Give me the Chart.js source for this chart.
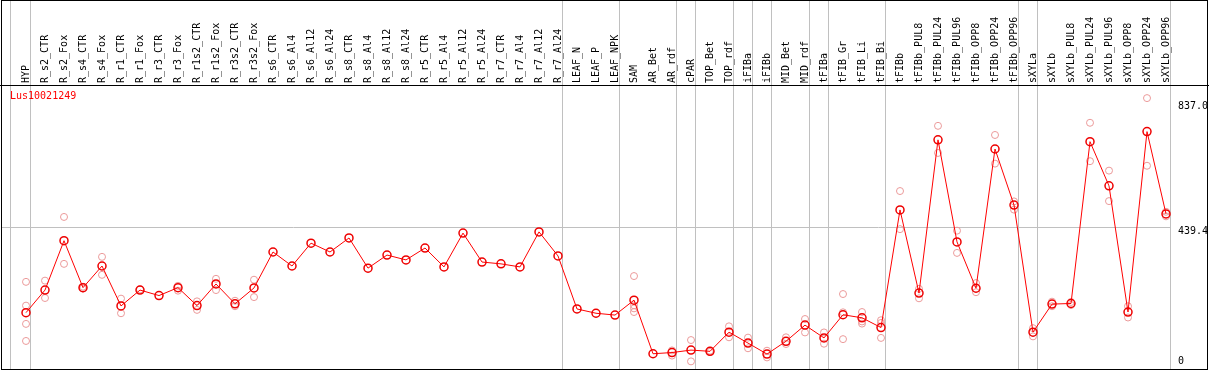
<!DOCTYPE html>
<html><head><meta charset="utf-8">
<script src="https://cdn.jsdelivr.net/npm/chart.js@4"></script>
<style>
html,body{margin:0;padding:0;background:#fff;overflow:hidden}
#wrap{position:relative;width:1209px;height:370px}
#c{position:absolute;left:0;top:0}
#frame{position:absolute;left:1px;top:0;width:1205px;height:368px;border:1px solid #000;pointer-events:none}
#gene{position:absolute;left:10px;top:90px;font:10px/12px "DejaVu Sans Mono",monospace;color:#ff0000;white-space:nowrap}
</style></head><body>
<div id="wrap"><canvas id="c" width="1209" height="370"></canvas><div id="gene">Lus10021249</div><div id="frame"></div></div>
<script>
const categories = ["HYP","R_s2_CTR","R_s2_Fox","R_s4_CTR","R_s4_Fox","R_r1_CTR","R_r1_Fox","R_r3_CTR","R_r3_Fox","R_r1s2_CTR","R_r1s2_Fox","R_r3s2_CTR","R_r3s2_Fox","R_s6_CTR","R_s6_Al4","R_s6_Al12","R_s6_Al24","R_s8_CTR","R_s8_Al4","R_s8_Al12","R_s8_Al24","R_r5_CTR","R_r5_Al4","R_r5_Al12","R_r5_Al24","R_r7_CTR","R_r7_Al4","R_r7_Al12","R_r7_Al24","LEAF_N","LEAF_P","LEAF_NPK","SAM","AR_Bet","AR_rdf","cPAR","TOP_Bet","TOP_rdf","iFIBa","iFIBb","MID_Bet","MID_rdf","tFIBa","tFIB_Gr","tFIB_Li","tFIB_Bi","tFIBb","tFIBb_PUL8","tFIBb_PUL24","tFIBb_PUL96","tFIBb_OPP8","tFIBb_OPP24","tFIBb_OPP96","sXYLa","sXYLb","sXYLb_PUL8","sXYLb_PUL24","sXYLb_PUL96","sXYLb_OPP8","sXYLb_OPP24","sXYLb_OPP96"];
const means = [161,235,397,243,314,183,235,217,243,184,255,190,242,360,314,389,360,406,307,350,334,373,311,422,327,321,311,426,347,173,159,153,202,26,30,38,34,97,61,25,67,120,78,154,144,112,498,225,728,393,241,698,514,97,189,191,722,577,163,755,485];
const replicates = [[262,184,124,68],[266,209],[475,321],[246,240],[344,285],[207,159],[237],[],[249,233],[198,170],[272,235],[200,182],[269,212],[],[],[],[],[],[],[],[],[],[],[],[],[],[],[],[],[],[],[],[281,185,175,163],[],[37,20],[71,1],[36,32],[116,80],[79,44],[36,14],[80,58],[140,96],[96,59],[222,162,74],[163,132,125],[136,127,78],[560,435],[239,208],[774,685],[430,357],[258,228],[744,650],[526,499],[110,83],[197,182],[196,186],[784,658],[627,527],[182,145],[865,643],[492,477]];
const groupEnds = [0,28,31,34,35,37,38,39,41,42,45,52,53,60];
const yTickValues = [0, 439.4, 837.0];
const yTickLabels = ["0", "439.4", "837.0"];

const boundaryValues = [-0.83].concat(groupEnds.map(i => i + 0.25));
const xTicks = categories.map((_, i) => i).concat(boundaryValues).sort((a, b) => a - b);
const isBoundary = v => !Number.isInteger(v);

const headerLine = {
  id: 'headerLine',
  afterDraw(chart) {
    const {ctx, chartArea, width} = chart;
    ctx.save();
    ctx.fillStyle = '#000';
    ctx.fillRect(0, Math.round(chartArea.top), width, 1);
    ctx.restore();
  }
};

const monoFont = {family: '"DejaVu Sans Mono", monospace', size: 10};

new Chart(document.getElementById('c'), {
  type: 'scatter',
  data: {
    datasets: [
      {
        label: 'mean',
        data: means.map((v, i) => ({x: i, y: v})),
        showLine: true,
        borderColor: '#ff0000',
        borderWidth: 1,
        tension: 0,
        pointStyle: 'circle',
        pointRadius: 4,
        pointBorderWidth: 1.5,
        pointBorderColor: '#ee0000',
        pointBackgroundColor: 'rgba(0,0,0,0)'
      },
      {
        label: 'replicates',
        data: replicates.flatMap((arr, i) => arr.map(v => ({x: i, y: v}))),
        showLine: false,
        pointStyle: 'circle',
        pointRadius: 3.5,
        pointBorderWidth: 1,
        pointBorderColor: '#eb9a9a',
        pointBackgroundColor: 'rgba(0,0,0,0)'
      }
    ]
  },
  options: {
    responsive: false,
    devicePixelRatio: 1,
    animation: false,
    events: [],
    layout: {autoPadding: false, padding: {left: 1, right: 0, top: 0, bottom: 1}},
    plugins: {legend: {display: false}, tooltip: {enabled: false}, title: {display: false}},
    scales: {
      x: {
        type: 'linear',
        position: 'top',
        min: -1.3158,
        max: 60.263,
        afterBuildTicks: axis => { axis.ticks = xTicks.map(v => ({value: v})); },
        afterFit: axis => {
          axis.height = 85;
          axis.paddingLeft = 0; axis.paddingRight = 0; axis.paddingTop = 0; axis.paddingBottom = 0;
        },
        grid: {
          color: ctx => (ctx.tick && isBoundary(ctx.tick.value)) ? '#c0c0c0' : 'rgba(0,0,0,0)',
          lineWidth: 1,
          drawTicks: true,
          tickLength: 85
        },
        border: {display: false},
        ticks: {
          autoSkip: false,
          minRotation: 90,
          maxRotation: 90,
          mirror: true,
          padding: -2,
          color: '#000',
          font: monoFont,
          callback: v => Number.isInteger(v) ? categories[v] : ''
        }
      },
      y: {
        type: 'linear',
        position: 'right',
        min: -24,
        max: 908,
        afterBuildTicks: axis => { axis.ticks = yTickValues.map(v => ({value: v})); },
        afterFit: axis => {
          axis.width = 38;
          axis.paddingLeft = 0; axis.paddingRight = 0; axis.paddingTop = 0; axis.paddingBottom = 0;
        },
        grid: {
          color: ctx => (ctx.tick && ctx.tick.value === 439.4) ? '#c0c0c0' : 'rgba(0,0,0,0)',
          drawTicks: false,
          lineWidth: 1
        },
        border: {display: false},
        ticks: {
          padding: 7,
          color: '#000',
          font: {family: '"DejaVu Sans Mono", monospace', size: 10, lineHeight: 0.8},
          callback: (v, i) => i === 1 ? ['', yTickLabels[i]] : yTickLabels[i]
        }
      }
    }
  },
  plugins: [headerLine]
});
</script>
</body></html>
